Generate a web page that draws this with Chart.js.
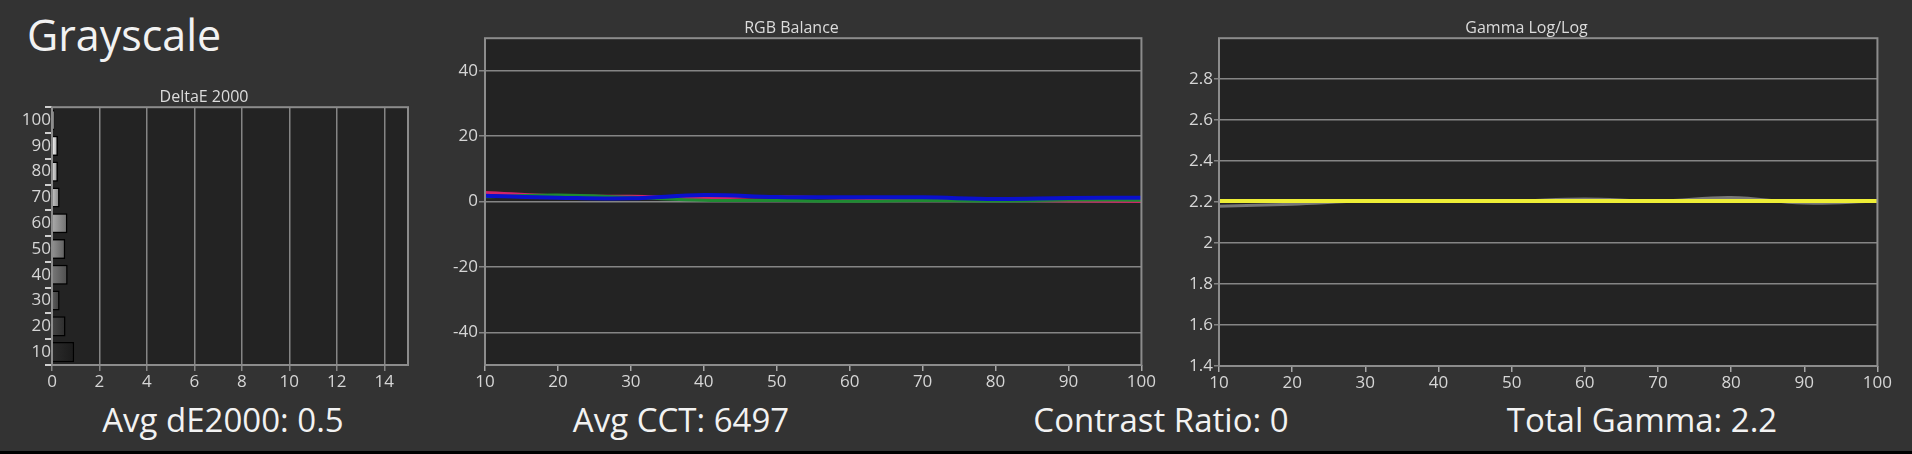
<!DOCTYPE html>
<html>
<head>
<meta charset="utf-8">
<script src="https://cdn.jsdelivr.net/npm/chart.js@4.4.1/dist/chart.umd.min.js"></script>
<style>
  html, body { margin: 0; padding: 0; }
  body {
    width: 1912px; height: 454px; position: relative; overflow: hidden;
    background: #333333; font-family: "Open Sans", sans-serif; color: #f2f2f2;
  }
  canvas { position: absolute; }
  .big { position: absolute; line-height: 1; white-space: nowrap; }
  .stat { position: absolute; width: 400px; text-align: center; font-size: 33px; line-height: 1; top: 403px; }
  #strip { position: absolute; left: 0; top: 451px; width: 1912px; height: 3px; background: #000; }
</style>
</head>
<body>
<div class="big" style="left:27px; top:13px; font-size:43px;">Grayscale</div>

<canvas id="chart-de" width="420" height="311" style="left:0px; top:84px;"></canvas>
<canvas id="chart-rgb" width="717" height="380" style="left:440px; top:15px;"></canvas>
<canvas id="chart-gamma" width="719" height="381" style="left:1174px; top:15px;"></canvas>

<div class="stat" style="left:23px;">Avg dE2000: 0.5</div>
<div class="stat" style="left:481px;">Avg CCT: 6497</div>
<div class="stat" style="left:961px;">Contrast Ratio: 0</div>
<div class="stat" style="left:1442px;">Total Gamma: 2.2</div>
<div id="strip"></div>

<script>
// grayscale stimulus levels (%)
const levels = [10, 20, 30, 40, 50, 60, 70, 80, 90, 100];

// DeltaE 2000 per level
const deltaE = [0.93, 0.57, 0.32, 0.66, 0.56, 0.65, 0.32, 0.25, 0.25, 0.1];

// RGB balance (%) per level
const rgbRed   = [2.8, 1.8, 1.6, 1.2, 1.5, 1.0, 0.8, 0.5, 0.2, 0.0];
const rgbGreen = [1.5, 2.0, 1.3, 0.4, 0.3, 0.1, 0.3, 0.2, 0.5, 0.4];
const rgbBlue  = [1.8, 1.2, 1.0, 2.0, 1.4, 1.3, 1.3, 0.8, 1.1, 1.2];

// gamma log/log
const gammaMeasured = [2.18, 2.19, 2.205, 2.205, 2.205, 2.215, 2.205, 2.222, 2.195, 2.205];
const gammaTarget   = [2.205, 2.205, 2.205, 2.205, 2.205, 2.205, 2.205, 2.205, 2.205, 2.205];

// tick labels
const deTicks    = [0, 2, 4, 6, 8, 10, 12, 14];
const rgbYTicks  = [-40, -20, 0, 20, 40];
const levelTicks = [10, 20, 30, 40, 50, 60, 70, 80, 90, 100];
const gammaTicks = [1.4, 1.6, 1.8, 2, 2.2, 2.4, 2.6, 2.8];

const C = {
  text: '#d6d6d6',
  title: '#dcdcdc',
  grid: '#858585',
  frame: '#8c8c8c',
  plotBg: '#232323',
  red: '#d2246a',
  green: '#1f8a32',
  blue: '#0a10cc',
  gray: '#777777',
  yellow: '#eeee36',
};

Chart.defaults.font.family = '"Open Sans", sans-serif';
Chart.defaults.color = C.text;

// dark plot background + grey frame round the chart area
const framePlugin = {
  id: 'frame',
  beforeDraw(chart) {
    const a = chart.chartArea, ctx = chart.ctx;
    ctx.save();
    ctx.fillStyle = C.plotBg;
    ctx.fillRect(a.left, a.top, a.right - a.left, a.bottom - a.top);
    ctx.restore();
  },
  afterDraw(chart) {
    const a = chart.chartArea, ctx = chart.ctx;
    ctx.save();
    ctx.strokeStyle = C.frame;
    ctx.lineWidth = 2;
    ctx.strokeRect(a.left, a.top, a.right - a.left, a.bottom - a.top);
    ctx.restore();
  }
};

function fixedTicks(list) {
  return scale => { scale.ticks = list.map(v => ({ value: v })); };
}

function titleOpts(text) {
  return {
    display: true, text, color: C.title,
    font: { size: 16, weight: 'normal' },
    padding: { top: 4, bottom: 0 },
  };
}

// dataset 0 is painted last (on top) in Chart.js
function lineDataset(data, color, width) {
  return {
    data: levels.map((l, i) => ({ x: l, y: data[i] })),
    borderColor: color, borderWidth: width || 4,
    pointRadius: 0, tension: 0.4, fill: false,
  };
}

function barGradient(ctx) {
  const chart = ctx.chart;
  const lvl = levels[ctx.dataIndex];
  const g = Math.round(15 + lvl * 2.3);
  const base = `rgb(${g},${g},${g})`;
  if (!chart.chartArea || !chart.scales.x) return base;
  const x0 = chart.scales.x.getPixelForValue(0);
  const x1 = chart.scales.x.getPixelForValue(ctx.raw || 0.1);
  const hi = Math.min(255, Math.round(g * 1.12));
  const lo = Math.round(g * 0.72);
  const grad = chart.ctx.createLinearGradient(x0, 0, Math.max(x1, x0 + 2), 0);
  grad.addColorStop(0, `rgb(${hi},${hi},${hi})`);
  grad.addColorStop(1, `rgb(${lo},${lo},${lo})`);
  return grad;
}

const tickFont = { size: 17 };

new Chart(document.getElementById('chart-de'), {
  type: 'bar',
  data: {
    labels: levels.map(String),
    datasets: [{
      data: deltaE,
      backgroundColor: barGradient,
      borderColor: '#000',
      borderWidth: 1.5,
      categoryPercentage: 1,
      barPercentage: 0.78,
    }]
  },
  options: {
    indexAxis: 'y',
    responsive: false,
    animation: false,
    layout: { padding: { right: 12 } },
    plugins: {
      legend: { display: false },
      tooltip: { enabled: false },
      title: titleOpts('DeltaE 2000'),
    },
    scales: {
      x: {
        type: 'linear', min: 0, max: 15,
        afterBuildTicks: fixedTicks(deTicks),
        afterFit: s => { s.height = 30; },
        grid: { color: C.grid, lineWidth: 1.5, tickLength: 6 },
        border: { display: false },
        ticks: { color: C.text, font: tickFont, padding: 1 },
      },
      y: {
        reverse: true,
        afterFit: s => { s.width = 52; },
        grid: { drawOnChartArea: false, offset: true, color: '#d0d0d0', lineWidth: 2, tickLength: 7 },
        border: { display: false },
        ticks: { color: C.text, font: tickFont, padding: -6 },
      },
    },
  },
  plugins: [framePlugin],
});

new Chart(document.getElementById('chart-rgb'), {
  type: 'line',
  data: {
    datasets: [
      lineDataset(rgbBlue, C.blue),
      lineDataset(rgbGreen, C.green, 3),
      lineDataset(rgbRed, C.red, 3),
    ]
  },
  options: {
    responsive: false,
    animation: false,
    layout: { padding: { right: 14 } },
    plugins: {
      legend: { display: false },
      tooltip: { enabled: false },
      title: titleOpts('RGB Balance'),
    },
    scales: {
      x: {
        type: 'linear', min: 10, max: 100,
        afterBuildTicks: fixedTicks(levelTicks),
        afterFit: s => { s.height = 30; },
        grid: { drawOnChartArea: false, color: '#a8a8a8', lineWidth: 1.5, tickLength: 6 },
        border: { display: false },
        ticks: { color: C.text, font: tickFont, padding: 1 },
      },
      y: {
        type: 'linear', min: -50, max: 50,
        afterBuildTicks: fixedTicks(rgbYTicks),
        afterFit: s => { s.width = 45; },
        grid: { color: C.grid, lineWidth: 1.5, tickLength: 6 },
        border: { display: false },
        ticks: { color: C.text, font: tickFont, padding: 1 },
      },
    },
  },
  plugins: [framePlugin],
});

new Chart(document.getElementById('chart-gamma'), {
  type: 'line',
  data: {
    datasets: [
      lineDataset(gammaTarget, C.yellow, 4),
      lineDataset(gammaMeasured, C.gray, 3),
    ]
  },
  options: {
    responsive: false,
    animation: false,
    layout: { padding: { right: 14 } },
    plugins: {
      legend: { display: false },
      tooltip: { enabled: false },
      title: titleOpts('Gamma Log/Log'),
    },
    scales: {
      x: {
        type: 'linear', min: 10, max: 100,
        afterBuildTicks: fixedTicks(levelTicks),
        afterFit: s => { s.height = 30; },
        grid: { drawOnChartArea: false, color: '#a8a8a8', lineWidth: 1.5, tickLength: 6 },
        border: { display: false },
        ticks: { color: C.text, font: tickFont, padding: 1 },
      },
      y: {
        type: 'linear', min: 1.4, max: 3.0,
        afterBuildTicks: fixedTicks(gammaTicks),
        afterFit: s => { s.width = 45; },
        grid: { color: C.grid, lineWidth: 1.5, tickLength: 5 },
        border: { display: false },
        ticks: { color: C.text, font: tickFont, padding: 1, callback: v => String(v) },
      },
    },
  },
  plugins: [framePlugin],
});
</script>
</body>
</html>
